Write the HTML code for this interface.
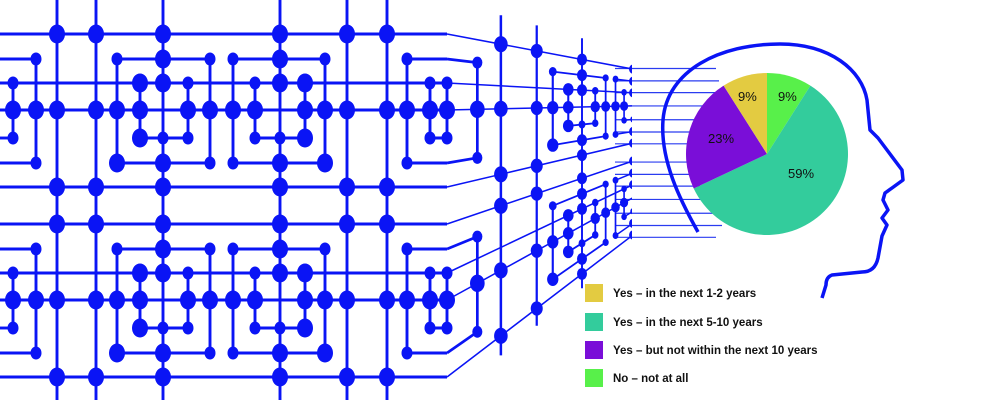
<!DOCTYPE html>
<html><head><meta charset="utf-8"><style>
html,body{margin:0;padding:0;background:#fff;width:1000px;height:400px;overflow:hidden}
svg{display:block}
.lg{font-family:"Liberation Sans",sans-serif;font-weight:bold;font-size:11.5px;fill:#111}
.pl{font-family:"Liberation Sans",sans-serif;font-size:13px;fill:#111}
</style></head><body>
<svg id="s" width="1000" height="400" viewBox="0 0 1000 400" xmlns="http://www.w3.org/2000/svg">
<defs><clipPath id="cr"><rect x="0" y="0" width="632" height="400"/></clipPath></defs>
<g id="thin" stroke="#2a3cf0" stroke-width="1.2"></g>
<g id="circ" clip-path="url(#cr)" fill="#0a14f5" stroke="#0a14f5"></g>
<path d="M698 232 C680 200,660 160,663 120 C667 70,720 44,780 44 C830 44,862 70,867 100 L870 130 L878 138 L902 170 L903 180 L892 188 L885 193 L883 200 L888 210 L882 218 L887 225 L882 236 L878 258 Q875 272 862 272 L832 275 Q826 277 826 285 L822 298" fill="none" stroke="#0a14f5" stroke-width="3.5" stroke-linejoin="round"/>
<g id="pie"></g>
<text class="pl" x="738" y="101">9%</text>
<text class="pl" x="778" y="101">9%</text>
<text class="pl" x="708" y="143">23%</text>
<text class="pl" x="788" y="178">59%</text>
<rect x="585" y="284" width="18" height="18" fill="#e3cb41"/>
<rect x="585" y="313" width="18" height="18" fill="#33cc9c"/>
<rect x="585" y="341" width="18" height="18" fill="#7a0ed8"/>
<rect x="585" y="369" width="18" height="18" fill="#58f04a"/>
<text class="lg" x="613" y="297">Yes – in the next 1-2 years</text>
<text class="lg" x="613" y="326">Yes – in the next 5-10 years</text>
<text class="lg" x="613" y="354">Yes – but not within the next 10 years</text>
<text class="lg" x="613" y="382">No – not at all</text>
</svg>
<script>
(function(){
var NS="http://www.w3.org/2000/svg",g=document.getElementById("circ"),th=document.getElementById("thin");
var L=250,VY=102;
function P(x,y){if(x<=447)return [x,y,1];var u=x-447,t=u/(u+L);return [447+360*t,VY+(y-VY)*(1-t),1-t];}
function el(n,a,p){var e=document.createElementNS(NS,n);for(var k in a)e.setAttribute(k,a[k]);(p||g).appendChild(e);return e;}
function seg(x1,y1,x2,y2){
 if(x1>x2){var t=x1;x1=x2;x2=t;t=y1;y1=y2;y2=t;}
 if(x1<447&&x2>447){var yy=y1+(y2-y1)*(447-x1)/(x2-x1);seg(x1,y1,447,yy);seg(447,yy,x2,y2);return;}
 var a=P(x1,y1),b=P(x2,y2);
 el("line",{x1:a[0],y1:a[1],x2:b[0],y2:b[1],"stroke-width":2.6*Math.min(a[2],b[2])+0.3,fill:"none"});
}
function dot(x,y,big){var p=P(x,y),s=p[2];el("ellipse",{cx:p[0],cy:p[1],rx:(big?8:5.5)*s,ry:(big?9.5:6.5)*s,stroke:"none"});}
var R=[0,25,49,76,104,129,153];
function block(ox,yo){
 function Y(r){return yo+R[r];}
 [[1,[[0,36],[117,210],[233,325],[407,447]]],[4,[[0,13],[140,188],[255,305],[430,447]]],[5,[[0,36],[117,210],[233,325],[407,447]]]].forEach(function(r){
  r[1].forEach(function(s){seg(ox+s[0],Y(r[0]),ox+s[1],Y(r[0]));});});
 [[13,2,4],[36,1,5],[117,1,5],[140,2,4],[188,2,4],[210,1,5],[233,1,5],[255,2,4],[305,2,4],[325,1,5],[407,1,5],[430,2,4]].forEach(function(v){
  seg(ox+v[0],Y(v[1]),ox+v[0]+0.001,Y(v[2]));});
 var D={0:"57B 96B 163B 280B 347B 387B",6:"57B 96B 163B 280B 347B 387B",
 1:"36S 117S 163B 210S 233S 280B 325S 407S",2:"13S 140B 163B 188S 255S 280B 305B 430S",
 3:"13B 36B 57B 96B 117B 140B 188B 210B 233B 255B 305B 325B 347B 387B 407B 430B",
 4:"13S 140B 163S 188S 255S 280S 305B 430S",5:"36S 117B 163B 210S 233S 280B 325B 407S"};
 for(var r in D){D[r].split(" ").forEach(function(d){dot(ox+parseFloat(d),Y(+r),d.slice(-1)=="B");});}
}
var blocks=[34,224];
// full rows
blocks.forEach(function(yo){[0,2,3,6].forEach(function(r){seg(0,yo+R[r],720,yo+R[r]);});});
// long verticals
[0,434].forEach(function(ox){[57,96,163,280,347,387].forEach(function(x){seg(ox+x,0,ox+x+0.001,400);});});
[0,434].forEach(function(ox){blocks.forEach(function(yo){block(ox,yo);});});
// thin lines to head
blocks.forEach(function(yo){R.forEach(function(r,i){var p=P(705,yo+r);el("line",{x1:615,y1:p[1],x2:716+(i%3)*3,y2:p[1]},th);});});
// pie
var pg=document.getElementById("pie"),cx=767,cy=154,rad=81;
var sl=[[9,"#58f04a"],[59,"#33cc9c"],[23,"#7a0ed8"],[9,"#e3cb41"]],a0=0;
sl.forEach(function(s){var a1=a0+s[0]*3.6,r0=(a0-90)*Math.PI/180,r1=(a1-90)*Math.PI/180;
 var d="M"+cx+" "+cy+" L"+(cx+rad*Math.cos(r0))+" "+(cy+rad*Math.sin(r0))+" A"+rad+" "+rad+" 0 "+((a1-a0)>180?1:0)+" 1 "+(cx+rad*Math.cos(r1))+" "+(cy+rad*Math.sin(r1))+" Z";
 el("path",{d:d,fill:s[1]},pg);a0=a1;});
})();
</script>
</body></html>
